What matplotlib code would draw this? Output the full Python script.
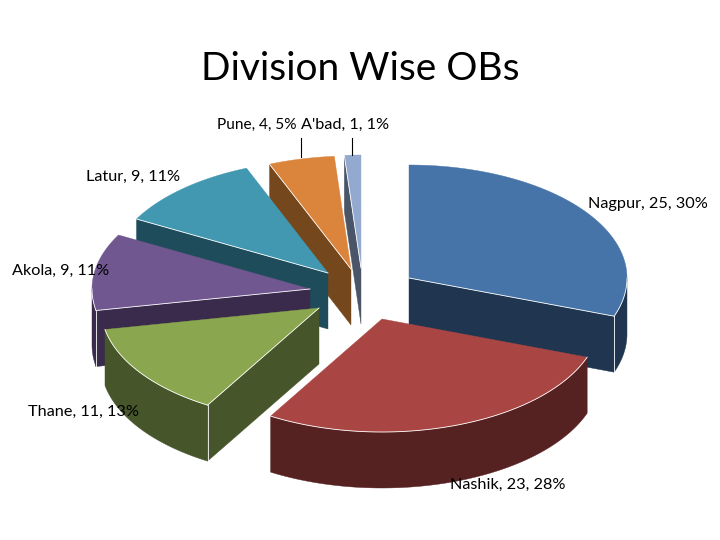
import numpy as np
import matplotlib
matplotlib.use("Agg")
import matplotlib.pyplot as plt

plt.rcParams['font.family'] = ['Lato', 'DejaVu Sans']

names = ["Nagpur", "Nashik", "Thane", "Akola", "Latur", "Pune", "A'bad"]
values = [25, 23, 11, 9, 9, 4, 1]

top_colors = ['#4674A8', '#A94644', '#8AA64E', '#70578F', '#4198B0', '#DB843C', '#93A9CF']
side_colors = ['#203650', '#552121', '#46552A', '#3A2A4B', '#1F4C5A', '#74471D', '#4A5568']

# apex of each exploded slice, in pixels
apex_x = [409, 382, 319, 310, 328, 351, 361]
apex_y = [278, 319, 308, 289, 273, 269, 268]
label_x = [588, 450, 28, 12, 86, 217, 301]
label_y = [204, 485, 412, 271, 177, 125, 125]

rx = 218
ry = 113
depth = 56

fig = plt.figure(figsize=(7.2, 5.4), dpi=100)
ax = fig.add_axes([0, 0, 1, 1])
ax.set_xlim(0, 720)
ax.set_ylim(540, 0)
ax.axis('off')

total = sum(values)
edges = np.concatenate([[0], np.cumsum(values)]) / total * 2 * np.pi


def rim(cx, cy, a, b):
    t = np.linspace(a, b, 80)
    return cx + rx * np.sin(t), cy - ry * np.cos(t)


# painter's order, back to front
order = [0, 6, 5, 4, 3, 2, 1]
for n, i in enumerate(order):
    a, b = edges[i], edges[i + 1]
    cx, cy = apex_x[i], apex_y[i]
    top, side = top_colors[i], side_colors[i]

    # cut faces
    if a > np.pi:
        xs, ys = rim(cx, cy, a, a)
        ax.fill([cx, xs[0], xs[0], cx], [cy, ys[0], ys[0] + depth, cy + depth], color=side, lw=0.3, zorder=1 + n)
    if b < np.pi:
        xs, ys = rim(cx, cy, b, b)
        ax.fill([cx, xs[0], xs[0], cx], [cy, ys[0], ys[0] + depth, cy + depth], color=side, lw=0.3, zorder=1 + n)

    # outer wall, only the front half of the ellipse shows
    lo, hi = max(a, np.pi / 2), min(b, 3 * np.pi / 2)
    if lo < hi:
        xs, ys = rim(cx, cy, lo, hi)
        ax.fill(np.r_[xs, xs[::-1]], np.r_[ys, ys[::-1] + depth], color=side, lw=0.3, zorder=1 + n)

    # top
    xs, ys = rim(cx, cy, a, b)
    ax.fill(np.r_[cx, xs], np.r_[cy, ys], color=top, lw=0.3, zorder=1 + n)

    # white highlights
    z = 1.5 + n
    if lo < hi:
        xs, ys = rim(cx, cy, lo, hi)
        ax.plot(xs, ys, color='white', lw=0.6, zorder=z)
    if a > np.pi:
        xs, ys = rim(cx, cy, a, a)
        ax.plot([cx, xs[0]], [cy, ys[0]], color='white', lw=0.6, zorder=z)
        if a < 3 * np.pi / 2:
            ax.plot([xs[0], xs[0]], [ys[0], ys[0] + depth], color='white', lw=0.6, zorder=z)
    if b < np.pi:
        xs, ys = rim(cx, cy, b, b)
        ax.plot([cx, xs[0]], [cy, ys[0]], color='white', lw=0.6, zorder=z)
        ax.plot([xs[0], xs[0]], [ys[0], ys[0] + depth], color='white', lw=0.6, zorder=z)

# leader lines for the two small slices
ax.plot([301, 301], [138, 157], color='black', lw=0.8, zorder=20)
ax.plot([352, 352], [138, 155], color='black', lw=0.8, zorder=20)

for i in range(len(names)):
    pct = int(100 * values[i] / total + 0.5)
    size = 11.1 if names[i] == "Pune" else 11.7
    ax.text(label_x[i], label_y[i], f"{names[i]}, {values[i]}, {pct}%", fontsize=size,
            color='black', ha='left', va='center', zorder=30)

ax.text(360, 69, "Division Wise OBs", fontsize=28, color='black', ha='center', va='center', zorder=30)

fig.savefig("out.png", dpi=100)
